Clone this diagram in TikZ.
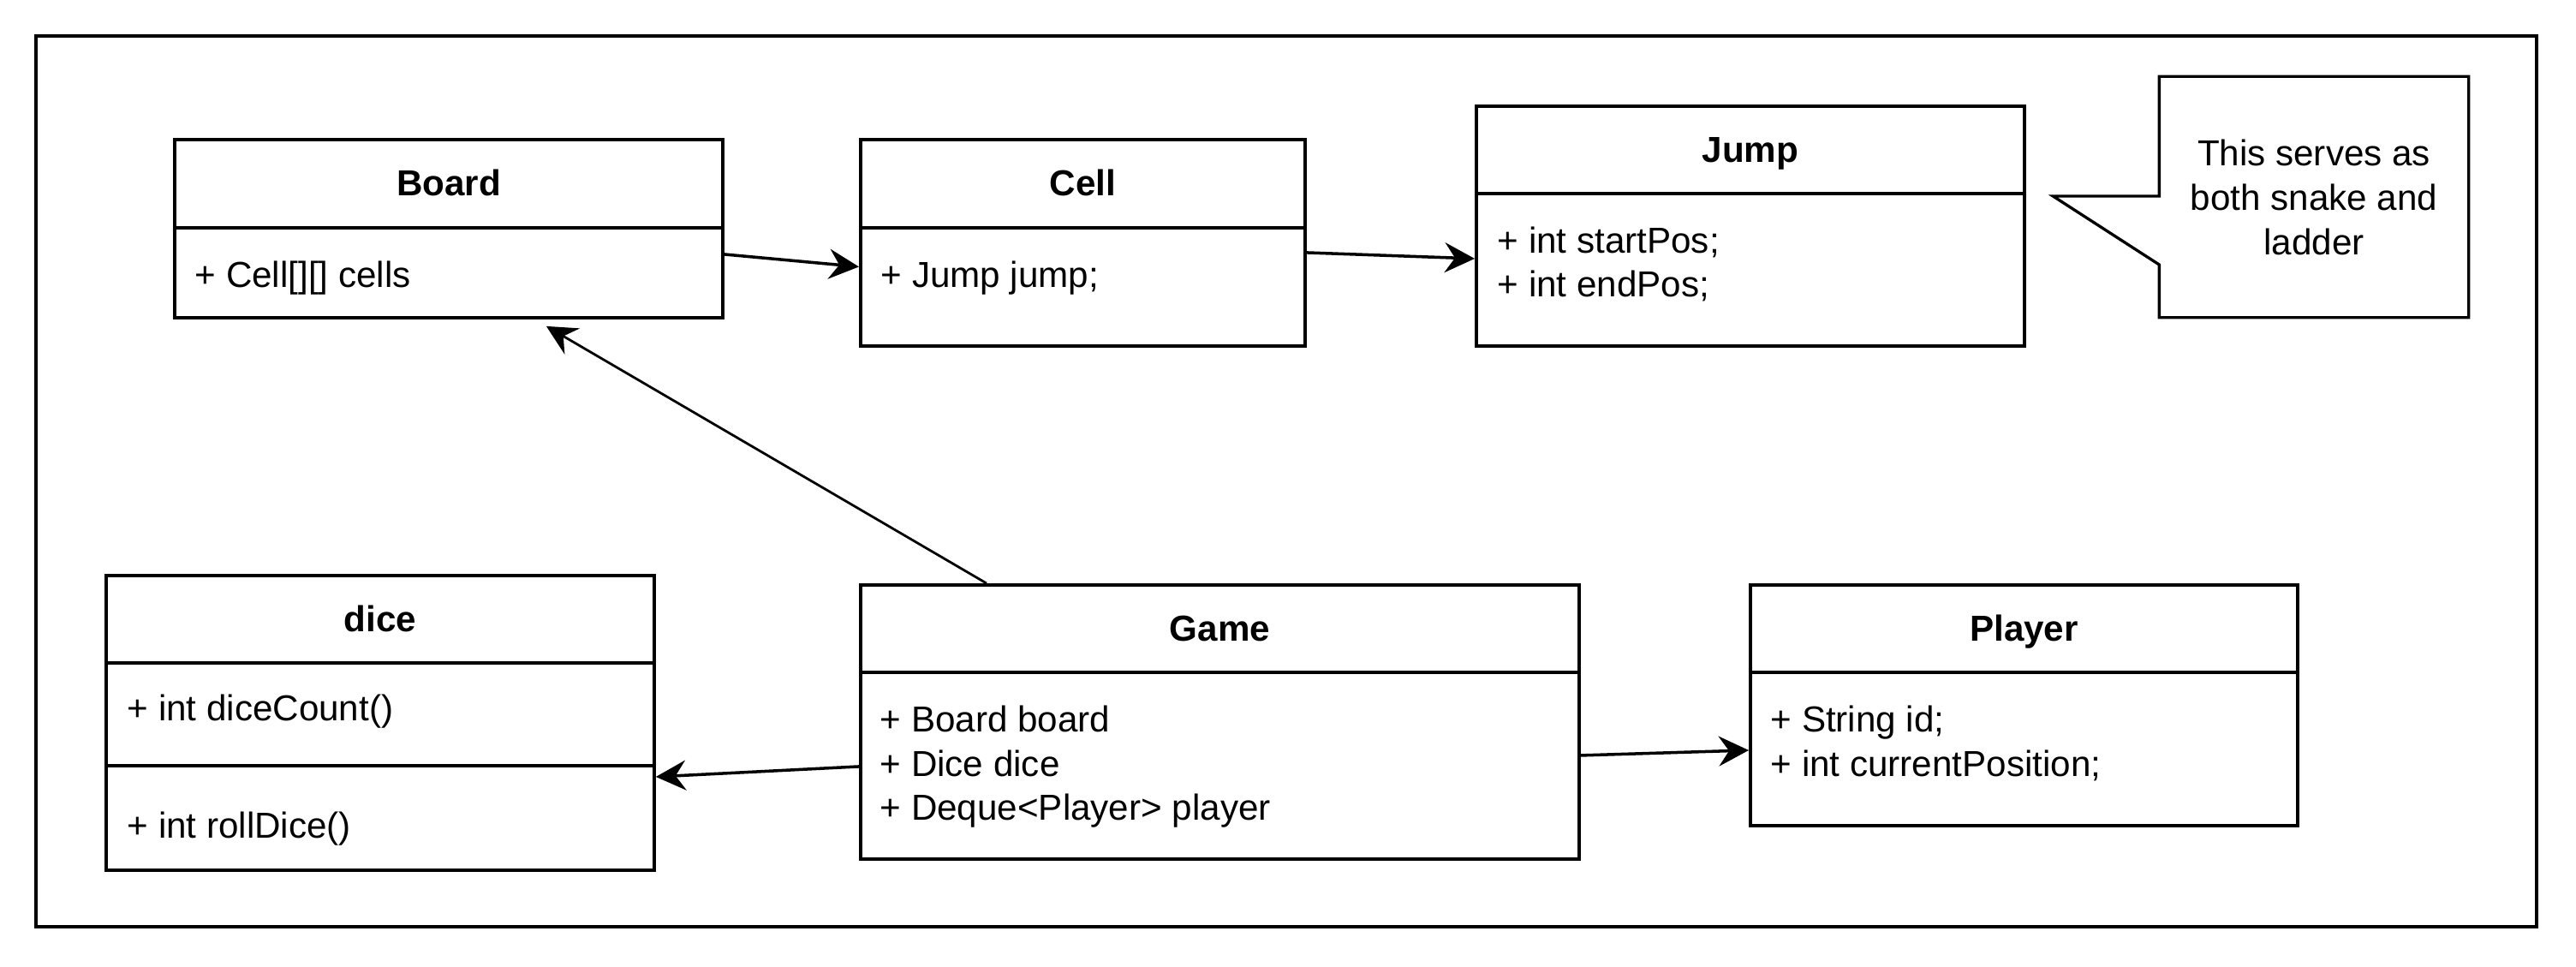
\documentclass[tikz,border=0pt]{standalone}
\usepackage{fontspec}
\setmainfont{Liberation Sans}
\usetikzlibrary{calc,arrows.meta}

\begin{document}
\begin{tikzpicture}
 \tikzstyle{arrow} = [-{Stealth[length=3.5mm,width=3.5mm,inset=1.2mm]},line width=1pt];
 \tikzstyle{classbox} = [draw=black,line width=1.1pt,inner sep=0pt,anchor=north west];
 \tikzstyle{classtitle} = [font=\fontsize{12}{14.8}\selectfont\bfseries,anchor=base,inner sep=0pt];
 \tikzstyle{member} = [font=\fontsize{12}{14.8}\selectfont,anchor=base west,inner sep=0pt];
 \tikzstyle{divider} = [line width=1.1pt];
 \tikzstyle{callout} = [line width=0.95pt,line join=miter];

 \useasboundingbox (0,0) rectangle (30.08,-11.28);
 \draw[line width=1.1pt] (0.42,-0.42) rectangle (29.62,-10.82);

 %% Board
 \node[classbox,name=board,minimum width=6.40cm,minimum height=2.08cm] at (2.02,-1.61) {};
 \node[classtitle,name=boardT] at ($(board.north)+(0,-0.675)$) {Board};
 \draw[divider] ($(board.north west)+(0,-1.05)$) -- ($(board.north east)+(0,-1.05)$);
 \node[member,name=boardA] at ($(board.north west)+(0.25,-1.74)$) {+ Cell[][] cells};

 %% Cell
 \node[classbox,name=cell,minimum width=5.19cm,minimum height=2.41cm] at (10.03,-1.61) {};
 \node[classtitle,name=cellT] at ($(cell.north)+(0,-0.675)$) {Cell};
 \draw[divider] ($(cell.north west)+(0,-1.05)$) -- ($(cell.north east)+(0,-1.05)$);
 \node[member,name=cellA] at ($(cell.north west)+(0.25,-1.74)$) {+ Jump jump;};

 %% Jump
 \node[classbox,name=jump,minimum width=6.40cm,minimum height=2.80cm] at (17.22,-1.22) {};
 \node[classtitle,name=jumpT] at ($(jump.north)+(0,-0.675)$) {Jump};
 \draw[divider] ($(jump.north west)+(0,-1.04)$) -- ($(jump.north east)+(0,-1.04)$);
 \node[member,name=jumpA1] at ($(jump.north west)+(0.26,-1.73)$) {+ int startPos;};
 \node[member,name=jumpA2] at ($(jump.north west)+(0.26,-2.24)$) {+ int endPos;};

 %% note
 \node[name=note,minimum width=3.60cm,minimum height=2.80cm,align=center,inner sep=0pt,
       font=\fontsize{12}{14.8}\selectfont] at (27.02,-2.30) {This serves as\\both snake and\\ladder};
 \draw[callout] (note.north west) -- (note.north east) -- (note.south east) -- (note.south west)
   -- ($(note.west)+(0,-0.79)$) -- ($(note.west)+(-1.24,0.01)$) -- ($(note.west)+(0,0.01)$) -- cycle;

 %% dice
 \node[classbox,name=dice,minimum width=6.40cm,minimum height=3.44cm] at (1.22,-6.70) {};
 \node[classtitle,name=diceT] at ($(dice.north)+(0,-0.675)$) {dice};
 \draw[divider] ($(dice.north west)+(0,-1.04)$) -- ($(dice.north east)+(0,-1.04)$);
 \draw[divider] ($(dice.north west)+(0,-2.24)$) -- ($(dice.north east)+(0,-2.24)$);
 \node[member,name=diceA] at ($(dice.north west)+(0.26,-1.71)$) {+ int diceCount()};
 \node[member,name=diceM] at ($(dice.north west)+(0.26,-3.08)$) {+ int rollDice()};

 %% Game
 \node[classbox,name=game,minimum width=8.39cm,minimum height=3.20cm] at (10.03,-6.81) {};
 \node[classtitle,name=gameT] at ($(game.north)+(0,-0.675)$) {Game};
 \draw[divider] ($(game.north west)+(0,-1.04)$) -- ($(game.north east)+(0,-1.04)$);
 \node[member,name=gameA1] at ($(game.north west)+(0.24,-1.73)$) {+ Board board};
 \node[member,name=gameA2] at ($(game.north west)+(0.24,-2.25)$) {+ Dice dice};
 \node[member,name=gameA3] at ($(game.north west)+(0.24,-2.76)$) {+ Deque<Player> player};

 %% Player
 \node[classbox,name=player,minimum width=6.39cm,minimum height=2.81cm] at (20.42,-6.81) {};
 \node[classtitle,name=playerT] at ($(player.north)+(0,-0.675)$) {Player};
 \draw[divider] ($(player.north west)+(0,-1.04)$) -- ($(player.north east)+(0,-1.04)$);
 \node[member,name=playerA1] at ($(player.north west)+(0.25,-1.73)$) {+ String id;};
 \node[member,name=playerA2] at ($(player.north west)+(0.25,-2.25)$) {+ int currentPosition;};

 \path ([yshift=-0.30cm]board.east) edge [arrow] ([yshift=-0.28cm]cell.west);
 \path ([yshift=-0.115cm]cell.east) edge [arrow] ([yshift=-0.38cm]jump.west);
 \path ([xshift=-2.725cm]game.north) edge [arrow,line width=0.8pt] ([xshift=1.14cm,yshift=-0.08cm]board.south);
 \path ([yshift=-0.52cm]game.west) edge [arrow] ([yshift=-0.63cm]dice.east);
 \path ([yshift=-0.39cm]game.east) edge [arrow] ([yshift=-0.525cm]player.west);

\end{tikzpicture}
\end{document}
